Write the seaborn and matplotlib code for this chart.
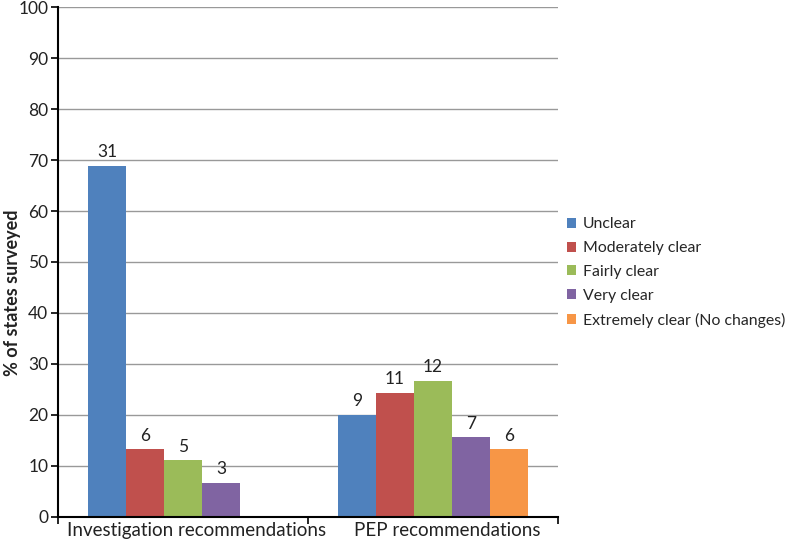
import pandas as pd
import matplotlib
matplotlib.use("Agg")
import matplotlib.pyplot as plt
import matplotlib.transforms as mtransforms
import seaborn as sns

# data
groups = ['Investigation recommendations', 'PEP recommendations']
levels = ['Unclear', 'Moderately clear', 'Fairly clear', 'Very clear', 'Extremely clear (No changes)']
invest_pct = [68.9, 13.3, 11.1, 6.7, 0.0]
invest_n = [31, 6, 5, 3, 0]
pep_pct = [20.0, 24.4, 26.7, 15.6, 13.3]
pep_n = [9, 11, 12, 7, 6]
colors = ['#4F81BD', '#C0504D', '#9BBB59', '#8064A2', '#F79646']

rows = []
for lvl, p, n in zip(levels, invest_pct, invest_n):
    rows.append({'group': groups[0], 'level': lvl, 'pct': p, 'n': n})
for lvl, p, n in zip(levels, pep_pct, pep_n):
    rows.append({'group': groups[1], 'level': lvl, 'pct': p, 'n': n})
df = pd.DataFrame(rows)

sns.set_theme(style="white")
plt.rcParams['font.family'] = ['Lato', 'DejaVu Sans']

fig = plt.figure(figsize=(8, 5.43), dpi=100)
ax = fig.add_axes([0.0725, 0.048, 0.625, 0.939])

sns.barplot(data=df, x='group', y='pct', hue='level', order=groups, hue_order=levels,
            palette=colors, width=0.76, gap=0, saturation=1, ax=ax, legend=True,
            edgecolor='none', linewidth=0)

# count labels above bars
for cont, lvl in zip(ax.containers, levels):
    ns = [df[(df.group == g) & (df.level == lvl)]['n'].iloc[0] for g in groups]
    ax.bar_label(cont, labels=[str(n) if n > 0 else '' for n in ns], padding=4,
                 fontsize=12.5, color='#222222')

ax.set_ylim(0, 100)
ax.set_yticks(range(0, 101, 10))
ax.set_xlim(-0.5, 1.5)
ax.yaxis.grid(True, color='#999999', linewidth=1)
ax.set_axisbelow(True)
for s in ['top', 'right']:
    ax.spines[s].set_visible(False)
for s in ['left', 'bottom']:
    ax.spines[s].set_color('black')
    ax.spines[s].set_linewidth(1.5)

ax.tick_params(axis='y', length=5, width=1.2, color='black', labelsize=12.5, pad=2,
               labelcolor='#222222', left=True)
ax.tick_params(axis='x', which='major', length=0, labelsize=13.5, labelcolor='#222222', pad=4)
ax.set_xticks([-0.5, 0.5, 1.5], minor=True)
ax.tick_params(axis='x', which='minor', length=5, width=1.2, color='black', bottom=True)

# category labels sit a bit right of the group centre, as in the original
shift = mtransforms.ScaledTranslation(0.14, 0, fig.dpi_scale_trans)
for lab in ax.get_xticklabels():
    lab.set_transform(lab.get_transform() + shift)

ax.set_xlabel('')
ax.set_ylabel('% of states surveyed', fontsize=13, fontweight='bold', color='#222222')
ax.yaxis.set_label_coords(-0.074, 0.44)

ax.legend(loc='upper left', bbox_to_anchor=(1.005, 0.6), frameon=False, fontsize=11.4,
          handlelength=0.6, handleheight=0.6, handletextpad=0.4, labelspacing=0.62,
          borderaxespad=0)

fig.savefig('out.png', dpi=100)
